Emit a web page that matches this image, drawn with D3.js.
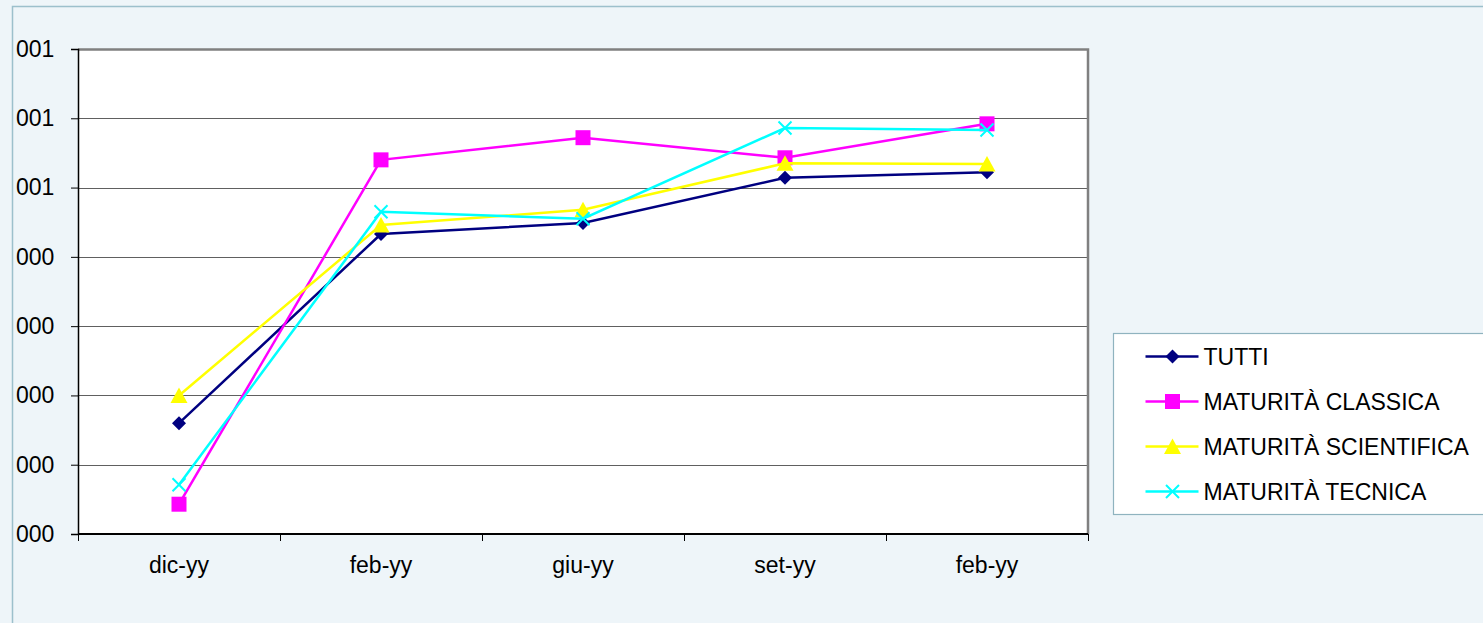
<!DOCTYPE html>
<html>
<head>
<meta charset="utf-8">
<script src="https://cdn.jsdelivr.net/npm/d3@7"></script>
<style>
  html, body { margin: 0; padding: 0; background: #eef5f9; overflow: hidden; }
  svg { display: block; }
  text { font-family: "Liberation Sans", Arial, sans-serif; }
</style>
</head>
<body>
<div id="chart"></div>
<script>
// data
const categories = ["dic-yy", "feb-yy", "giu-yy", "set-yy", "feb-yy"];
const yTickValues = [0, 1, 2, 3, 4, 5, 6, 7];
const yTickLabels = ["000", "000", "000", "000", "000", "001", "001", "001"];

const seriesNames = ["TUTTI", "MATURITÀ CLASSICA", "MATURITÀ SCIENTIFICA", "MATURITÀ TECNICA"];
const tutti       = [1.60, 4.33, 4.49, 5.14, 5.22];
const classica    = [0.43, 5.40, 5.72, 5.43, 5.92];
const scientifica = [2.00, 4.46, 4.68, 5.35, 5.34];
const tecnica     = [0.71, 4.65, 4.55, 5.86, 5.83];

const seriesColors = ["#000080", "#ff00ff", "#ffff00", "#00ffff"];
const seriesMarkers = ["diamond", "square", "triangle", "cross"];

const series = seriesNames.map((name, i) => ({
    name,
    values: [tutti, classica, scientifica, tecnica][i],
    color: seriesColors[i],
    marker: seriesMarkers[i]
}));

const width = 1483, height = 623;
const margin = { top: 49, right: 395, bottom: 89, left: 78 };
const innerWidth = width - margin.left - margin.right;
const innerHeight = height - margin.top - margin.bottom;

const svg = d3.select("#chart")
    .append("svg")
    .attr("width", width)
    .attr("height", height);

// background + outer frame
svg.append("rect")
    .attr("width", width).attr("height", height)
    .attr("fill", "#eef5f9");
svg.append("path")
    .attr("d", `M12.5,${height} V6.5 H${width}`)
    .attr("fill", "none")
    .attr("stroke", "#9cc0cc")
    .attr("stroke-width", 1.5);

const inner = svg.append("g")
    .attr("transform", `translate(${margin.left},${margin.top})`);

// scales
const xScale = d3.scaleBand()
    .domain(d3.range(categories.length))
    .range([0, innerWidth]);

const yScale = d3.scaleLinear()
    .domain([0, 7])
    .range([innerHeight, 0]);

// plot area
inner.append("rect")
    .attr("width", innerWidth)
    .attr("height", innerHeight)
    .attr("fill", "#ffffff");

// gridlines
inner.selectAll(".grid")
    .data(yTickValues.slice(1))
    .join("line")
    .attr("class", "grid")
    .attr("x1", 0).attr("x2", innerWidth)
    .attr("y1", d => Math.round(yScale(d)) + 0.5)
    .attr("y2", d => Math.round(yScale(d)) + 0.5)
    .attr("stroke", "#606060")
    .attr("stroke-width", 1.2);

// top/right border of plot
inner.append("path")
    .attr("d", `M0,0.5 H${innerWidth} V${innerHeight}`)
    .attr("fill", "none")
    .attr("stroke", "#808080")
    .attr("stroke-width", 2.5);

// y-axis
const yAxis = inner.append("g")
    .attr("class", "axis y-axis")
    .call(d3.axisLeft(yScale)
        .tickValues(yTickValues)
        .tickFormat((d, i) => yTickLabels[i])
        .tickSize(7)
        .tickPadding(17));
yAxis.select(".domain").attr("stroke", "#000").attr("stroke-width", 1.5);
yAxis.selectAll(".tick line").attr("stroke", "#000");
yAxis.selectAll("text")
    .attr("font-size", "23px")
    .attr("fill", "#000")
    .attr("text-anchor", "start")
    .attr("x", -62);

// x-axis: ticks at category boundaries
const xAxis = inner.append("g")
    .attr("class", "axis x-axis")
    .attr("transform", `translate(0,${innerHeight})`);
xAxis.append("line")
    .attr("x1", 0).attr("x2", innerWidth)
    .attr("stroke", "#000").attr("stroke-width", 2);
xAxis.selectAll(".xtick")
    .data(d3.range(categories.length + 1))
    .join("line")
    .attr("class", "xtick")
    .attr("x1", d => Math.round(d * xScale.bandwidth()) + 0.5)
    .attr("x2", d => Math.round(d * xScale.bandwidth()) + 0.5)
    .attr("y1", 0).attr("y2", 7)
    .attr("stroke", "#000");
xAxis.selectAll(".xlabel")
    .data(categories)
    .join("text")
    .attr("class", "xlabel")
    .attr("x", (d, i) => xScale(i) + xScale.bandwidth() / 2)
    .attr("y", 39)
    .attr("text-anchor", "middle")
    .attr("font-size", "23px")
    .attr("fill", "#000")
    .text(d => d);

// markers
const markerPath = (type) => {
    if (type === "diamond") return "M0,-7 L7,0 L0,7 L-7,0 Z";
    if (type === "square") return "M-7.5,-7.5 H7.5 V7.5 H-7.5 Z";
    if (type === "triangle") return "M0,-8 L8.5,7.5 L-8.5,7.5 Z";
    return "M-6.5,-6.5 L6.5,6.5 M-6.5,6.5 L6.5,-6.5";
};

const line = d3.line()
    .x((d, i) => xScale(i) + xScale.bandwidth() / 2)
    .y(d => yScale(d));

series.forEach(s => {
    const g = inner.append("g").attr("class", "series");
    g.append("path")
        .datum(s.values)
        .attr("d", line)
        .attr("fill", "none")
        .attr("stroke", s.color)
        .attr("stroke-width", 2.5);
    g.selectAll("path.marker")
        .data(s.values)
        .join("path")
        .attr("class", "marker")
        .attr("transform", (d, i) => `translate(${xScale(i) + xScale.bandwidth() / 2},${yScale(d)})`)
        .attr("d", markerPath(s.marker))
        .attr("fill", s.marker === "cross" ? "none" : s.color)
        .attr("stroke", s.color)
        .attr("stroke-width", s.marker === "cross" ? 2 : 0);
});

// legend (right side runs off the edge, as in the original)
const legend = svg.append("g")
    .attr("transform", "translate(1113.5, 333.5)");
legend.append("rect")
    .attr("width", 372)
    .attr("height", 181)
    .attr("fill", "#ffffff")
    .attr("stroke", "#8fb3bf")
    .attr("stroke-width", 1.2);

const legendItems = legend.selectAll(".legend-item")
    .data(series)
    .join("g")
    .attr("class", "legend-item")
    .attr("transform", (d, i) => `translate(0, ${23 + i * 45})`);
legendItems.append("line")
    .attr("x1", 32).attr("x2", 85)
    .attr("stroke", d => d.color)
    .attr("stroke-width", 2.5);
legendItems.append("path")
    .attr("transform", "translate(59,0)")
    .attr("d", d => markerPath(d.marker))
    .attr("fill", d => d.marker === "cross" ? "none" : d.color)
    .attr("stroke", d => d.color)
    .attr("stroke-width", d => d.marker === "cross" ? 2 : 0);
legendItems.append("text")
    .attr("x", 90)
    .attr("y", 8)
    .attr("font-size", "23px")
    .attr("fill", "#000")
    .text(d => d.name);
</script>
</body>
</html>
